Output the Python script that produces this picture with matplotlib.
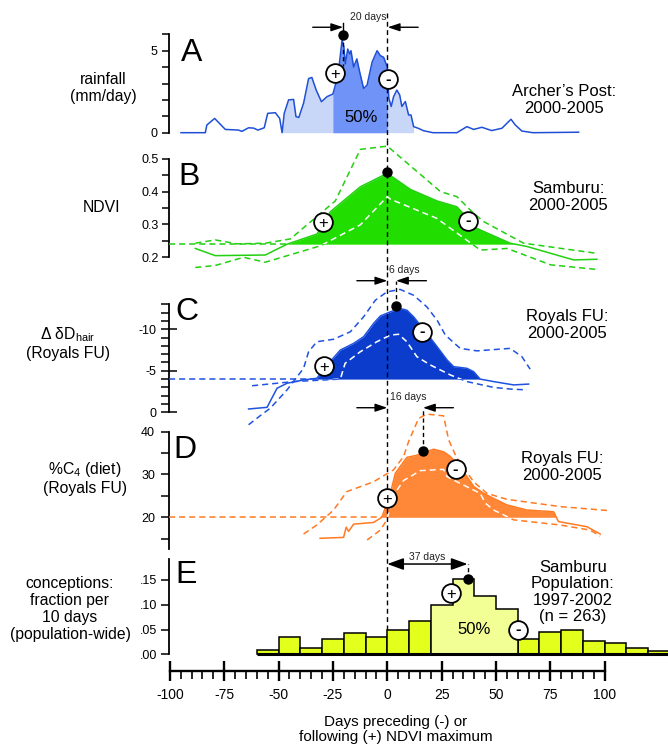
import matplotlib

matplotlib.use("Agg")
import matplotlib.pyplot as plt
import matplotlib.transforms as mtransforms
import numpy as np
from matplotlib.path import Path

plt.rcParams["font.family"] = ["Liberation Sans", "DejaVu Sans"]
plt.rcParams["mathtext.fontset"] = "custom"
plt.rcParams["mathtext.rm"] = "Liberation Sans"
plt.rcParams["mathtext.it"] = "Liberation Sans:italic"
plt.rcParams["axes.unicode_minus"] = False

# ---------------------------------------------------------------- data
# A: rainfall at Archer's Post (mm/day) vs days from NDVI maximum
rain_days = [-94.9, -83.7, -83.0, -79.4, -74.5, -68.4, -66.9, -63.8, -61.5, -59.5,
             -56.6, -55.0, -51.5, -49.5, -48.4, -47.4, -45.4, -43.1, -42.0, -40.7,
             -38.5, -36.2, -34.7, -32.7, -30.3, -27.7, -25.0, -23.9, -22.4, -20.8,
             -20.0, -19.3, -18.2, -17.3, -16.7, -15.5, -14.0, -12.7, -10.9, -9.3,
             -7.0, -4.7, -3.2, -1.7, 0.0, 0.7, 1.8, 2.9, 4.4, 5.7,
             6.7, 8.3, 9.8, 10.9, 12.1, 14.4, 16.7, 21.0, 24.4, 32.0,
             36.6, 39.7, 43.5, 48.0, 52.7, 56.9, 58.8, 61.9, 67.0, 88.0]
rain_mm = [0.0, 0.0, 0.47, 0.87, 0.2, 0.16, 0.08, 0.3, 0.28, 0.16,
           0.3, 1.18, 1.22, 0.87, 0.0, 1.18, 2.0, 2.03, 0.98, 0.93,
           1.8, 3.3, 3.37, 2.6, 1.89, 2.2, 2.36, 2.9, 3.8, 5.65,
           5.24, 4.2, 5.1, 4.8, 5.0, 4.0, 4.5, 3.7, 2.7, 2.9,
           4.3, 5.0, 4.7, 4.6, 4.0, 2.1, 1.6, 2.2, 2.6, 2.3,
           1.6, 1.9, 1.08, 1.08, 0.37, 0.26, 0.12, 0.0, 0.0, 0.0,
           0.37, 0.2, 0.33, 0.13, 0.27, 0.82, 0.48, 0.1, 0.0, 0.03]
rain_season = (-48.4, 12.1)
rain_half = (-25.0, 0.0)
rain_peak = (-20.3, 5.95)
rain_plus = (-24.2, 3.66)
rain_minus = (0.5, 3.25)

# B: NDVI, Samburu
ndvi_days = [-88.3, -79.1, -56.1, -46.1, -32.3, -26.2, -12.4, 0.0, 10.6, 22.8,
             32.0, 41.2, 56.5, 64.2, 85.7, 96.4]
ndvi_mean = [0.227, 0.205, 0.207, 0.240, 0.271, 0.339, 0.415, 0.456, 0.407, 0.372,
             0.354, 0.288, 0.243, 0.233, 0.192, 0.194]
ndvi_hi_days = [-88.3, -79.1, -69.1, -56.1, -44.6, -23.9, -12.4, 0.0, 24.5, 32.0,
                39.7, 44.3, 62.7, 96.4]
ndvi_hi = [0.243, 0.253, 0.241, 0.243, 0.256, 0.372, 0.529, 0.539, 0.400, 0.385,
           0.334, 0.309, 0.243, 0.212]
ndvi_lo_days = [-88.3, -79.1, -66.1, -56.1, -30.8, -12.4, 0.0, 1.5, 22.7, 42.8,
                55.1, 75.1, 96.4]
ndvi_lo = [0.169, 0.175, 0.200, 0.185, 0.235, 0.299, 0.385, 0.377, 0.319, 0.222,
           0.227, 0.177, 0.163]
ndvi_base = 0.24
ndvi_peak = (0.0, 0.459)
ndvi_plus = (-29.6, 0.307)
ndvi_minus = (37.1, 0.312)

# C: delta dD of hair, Royals FU
hair_days = [-63.8, -55.3, -50.7, -46.1, -38.5, -32.4, -26.3, -21.6, -15.5, -10.9,
             -6.3, -3.2, 1.4, 5.9, 9.0, 12.1, 18.2, 22.9, 27.5, 30.5,
             36.6, 39.7, 42.7, 48.9, 58.1, 65.0]
hair_mean = [-0.4, -0.6, -2.9, -3.5, -3.9, -4.1, -6.1, -7.5, -8.3, -9.1,
             -10.7, -11.6, -12.1, -12.5, -12.3, -11.5, -9.5, -7.9, -6.3, -5.5,
             -5.3, -4.9, -4.0, -3.7, -3.3, -3.4]
hair_outer_days = [-63.8, -58.4, -53.8, -46.1, -38.5, -36.2, -32.4, -24.7, -17.0, -10.9,
                   -5.5, -0.2, 5.9, 12.1, 18.2, 22.9, 26.7, 33.5, 41.2, 56.5,
                   61.9, 65.7]
hair_outer = [1.5, 0.4, -0.5, -2.7, -5.3, -7.3, -8.5, -8.8, -9.7, -11.5,
              -13.5, -14.5, -14.8, -14.1, -12.7, -11.1, -9.3, -7.7, -7.4, -7.7,
              -6.7, -5.2]
hair_inner_days = [-62.2, -43.1, -21.6, -19.4, -12.4, -4.8, 1.4, 5.2, 9.0, 13.6,
                   19.8, 29.0, 36.6, 48.9, 56.5, 64.2]
hair_inner = [-3.2, -3.7, -4.0, -5.9, -7.3, -8.5, -9.3, -9.4, -8.5, -6.7,
              -5.7, -4.5, -3.7, -3.0, -2.8, -2.7]
hair_base = -4.0
hair_peak = (4.0, -12.75)
hair_plus = (-28.9, -5.6)
hair_minus = (16.0, -9.7)

# D: %C4 in diet, Royals FU
c4_days = [-30.9, -20.1, -18.9, -17.8, -15.5, -6.3, -2.5, 1.4, 3.7, 9.0,
           13.6, 16.7, 21.3, 25.9, 29.0, 34.4, 39.7, 44.3, 48.9, 55.0,
           64.2, 76.5, 78.7, 91.8, 97.9]
c4_mean = [15.1, 15.3, 17.7, 16.7, 18.4, 18.8, 20.0, 25.6, 30.3, 34.0,
           34.5, 35.1, 35.9, 35.3, 34.2, 31.2, 27.2, 25.6, 24.4, 22.9,
           21.7, 21.3, 19.0, 17.8, 16.1]
c4_hi_days = [-38.5, -32.4, -24.7, -18.6, -6.3, 2.9, 7.5, 9.8, 14.4, 18.2,
              25.9, 28.2, 32.0, 39.7, 45.8, 55.0, 79.5, 101.0]
c4_hi = [16.1, 18.2, 21.7, 26.0, 28.3, 31.1, 34.2, 37.7, 43.1, 44.1,
         43.7, 38.1, 33.8, 28.3, 25.6, 24.2, 22.5, 21.6]
c4_lo_days = [-9.3, -3.2, -0.2, 2.9, 7.5, 15.2, 25.9, 27.5, 32.0, 42.7,
              45.1, 48.9, 58.1, 79.5, 93.3, 97.9]
c4_lo = [14.7, 17.0, 19.4, 25.2, 28.6, 30.9, 31.2, 29.5, 28.3, 25.6,
         23.3, 21.7, 19.4, 18.2, 17.0, 15.6]
c4_base = 20.0
c4_peak = (16.4, 35.6)
c4_plus = (0.0, 24.4)
c4_minus = (31.4, 31.2)

# E: conceptions per 10-day bin, Samburu population
conception_bin_start = [-60, -50, -40, -30, -20, -10, 0, 10, 20, 30,
                        40, 50, 60, 70, 80, 90, 100, 110, 120]
conception_fraction = [0.009, 0.034, 0.012, 0.031, 0.042, 0.034, 0.049, 0.068, 0.100, 0.151,
                       0.118, 0.091, 0.031, 0.044, 0.049, 0.026, 0.022, 0.012, 0.007]
conception_half = (20, 60)
conception_peak = (36.9, 0.152)
conception_plus = (29.2, 0.124)
conception_minus = (60.0, 0.049)

# ---------------------------------------------------------------- layout
W, H, DPI = 668, 745, 100
X_LEFT_PX, X_RIGHT_PX = 169, 668
XLIM = (-100.4, 129.1)
BIN_DAYS = 10
ARROW_DAYS = 14

A_LINE, A_LIGHT, A_DARK = "#1f4fd6", "#c8d6f8", "#6f93f6"
B_FILL, B_LINE = "#22de00", "#22d010"
C_FILL, C_LINE = "#0b3ccc", "#1f52e0"
D_FILL, D_LINE = "#ff8838", "#ff7a22"
E_BAR, E_LIGHT = "#e3ff1c", "#f1ff94"
DASH = (0, (4, 2.6))
ZERO_DASH = (0, (3.5, 2.5))


def fx(px: float) -> float:
    return px / W


def fy(py: float) -> float:
    return 1 - py / H


def add_panel(fig, top_px, bottom_px, ylim):
    ax = fig.add_axes([fx(X_LEFT_PX), fy(bottom_px), (X_RIGHT_PX - X_LEFT_PX) / W,
                       (bottom_px - top_px) / H])
    ax.set_xlim(*XLIM)
    ax.set_ylim(*ylim)
    ax.patch.set_visible(False)
    for side in ("top", "right", "bottom"):
        ax.spines[side].set_visible(False)
    ax.spines["left"].set_linewidth(1.3)
    ax.set_xticks([])
    ax.tick_params(axis="y", which="both", width=1.1, labelsize=9)
    return ax


def style_y(ax, ticks, labels, bounds, length=5.0, pad=2.5):
    ax.set_yticks(ticks)
    ax.set_yticklabels(labels)
    ax.spines["left"].set_bounds(*bounds)
    ax.tick_params(axis="y", which="major", length=length, pad=pad)


def zero_line(fig, ax, top_px, bottom_px, zorder=5):
    """Piece of the dashed NDVI-maximum line that runs through this panel."""
    tf = mtransforms.blended_transform_factory(ax.transData, fig.transFigure)
    ax.plot([0, 0], [fy(top_px), fy(bottom_px)], transform=tf, color="k", lw=1.0,
            ls=ZERO_DASH, clip_on=False, zorder=zorder)


def sign_marker(ax, xy, sign):
    ax.plot(*xy, "o", mfc="white", mec="k", mew=1.3, ms=13.5, zorder=8)
    offset = -1.1 if sign == "+" else 0.2
    ax.annotate(sign, xy, xytext=(0, offset), textcoords="offset points", ha="center",
                va="center", fontsize=12, fontweight="bold" if sign == "-" else "normal",
                zorder=9)


def peak_dot(ax, xy):
    ax.plot(*xy, "o", color="k", ms=6.5, zorder=8)


def inward_arrows(ax, left, right, y, label, label_y, label_x, ha):
    props = dict(arrowstyle="-|>,head_length=0.6,head_width=0.2", color="k", lw=1.0,
                 shrinkA=0, shrinkB=0, mutation_scale=12)
    ax.annotate("", xy=(left, y), xytext=(left - ARROW_DAYS, y), arrowprops=props,
                annotation_clip=False)
    ax.annotate("", xy=(right, y), xytext=(right + ARROW_DAYS, y), arrowprops=props,
                annotation_clip=False)
    ax.text(label_x, label_y, label, fontsize=7.5, ha=ha, va="center", color="#222222")


def white_inside(ax, days, values, poly):
    line, = ax.plot(days, values, color="white", lw=1.1, ls=DASH, zorder=4)
    line.set_clip_path(Path.make_compound_path(*poly.get_paths()), ax.transData)


def baseline_dash(ax, days, values, base, above, color):
    days = np.asarray(days)
    values = np.asarray(values)
    cond = values >= base if above else values <= base
    start = days[np.argmax(cond)]
    ax.plot([XLIM[0], start], [base, base], color=color, lw=1.1, ls=DASH, zorder=3)
    return cond


fig = plt.figure(figsize=(W / DPI, H / DPI), dpi=DPI)

# ---------------------------------------------------------------- panel A
ax_a = add_panel(fig, 5, 140, (-0.445, 7.787))
style_y(ax_a, [0, 1, 2, 3, 4, 5, 6], ["0", "", "", "", "", "5", ""], (0, 6), pad=3)
rd, rm = np.array(rain_days), np.array(rain_mm)
ax_a.fill_between(rd, rm, 0, where=(rd >= rain_season[0]) & (rd <= rain_season[1]),
                  color=A_LIGHT, lw=0, zorder=2)
ax_a.fill_between(rd, rm, 0, where=(rd >= rain_half[0]) & (rd <= rain_half[1]),
                  color=A_DARK, lw=0, zorder=2)
ax_a.plot(rd, rm, color=A_LINE, lw=1.1, zorder=3)
ax_a.text(-12.0, 0.95, "50%", fontsize=12, ha="center", va="center", zorder=5)
ax_a.plot([rain_peak[0]] * 2, [rain_peak[1], 4.05], color="k", lw=1.0, ls=(0, (3, 2.2)), zorder=5)
ax_a.plot([rain_peak[0]] * 2, [rain_peak[1], 6.7], color="k", lw=1.0, zorder=5)
peak_dot(ax_a, rain_peak)
sign_marker(ax_a, rain_plus, "+")
sign_marker(ax_a, rain_minus, "-")
inward_arrows(ax_a, rain_peak[0], 0.2, 6.43, "20 days", 7.07, -0.3, "right")
zero_line(fig, ax_a, 13, 140)

# ---------------------------------------------------------------- panel B
ax_b = add_panel(fig, 140, 278, (0.1369, 0.5576))
style_y(ax_b, [0.2, 0.25, 0.3, 0.35, 0.4, 0.45, 0.5],
        ["0.2", "", "0.3", "", "0.4", "", "0.5"], (0.2, 0.5))
cond_b = baseline_dash(ax_b, ndvi_days, ndvi_mean, ndvi_base, True, B_LINE)
poly_b = ax_b.fill_between(ndvi_days, ndvi_mean, ndvi_base, where=cond_b, interpolate=True,
                           color=B_FILL, lw=0, zorder=2)
ax_b.plot(ndvi_days, ndvi_mean, color=B_LINE, lw=1.1, zorder=3)
ax_b.plot(ndvi_hi_days, ndvi_hi, color=B_LINE, lw=1.1, ls=DASH, zorder=3)
ax_b.plot(ndvi_lo_days, ndvi_lo, color=B_LINE, lw=1.1, ls=DASH, zorder=3)
white_inside(ax_b, ndvi_lo_days, ndvi_lo, poly_b)
peak_dot(ax_b, ndvi_peak)
sign_marker(ax_b, ndvi_plus, "+")
sign_marker(ax_b, ndvi_minus, "-")
zero_line(fig, ax_b, 140, 272)

# ---------------------------------------------------------------- panel C
ax_c = add_panel(fig, 270, 428, (1.89, -17.14))
ax_c.set_yticks([0, -5, -10])
ax_c.set_yticklabels(["0", "-5", "-10"])
ax_c.set_yticks(list(range(0, -14, -1)), minor=True)
ax_c.spines["left"].set_bounds(0, -13)
ax_c.tick_params(axis="y", which="major", direction="inout", length=12, pad=3)
ax_c.tick_params(axis="y", which="minor", direction="out", length=5.5)
cond_c = baseline_dash(ax_c, hair_days, hair_mean, hair_base, False, C_LINE)
poly_c = ax_c.fill_between(hair_days, hair_mean, hair_base, where=cond_c, interpolate=True,
                           color=C_FILL, lw=0, zorder=2)
ax_c.plot(hair_days, hair_mean, color=C_LINE, lw=1.1, zorder=3)
ax_c.plot(hair_outer_days, hair_outer, color=C_LINE, lw=1.1, ls=DASH, zorder=3)
ax_c.plot(hair_inner_days, hair_inner, color=C_LINE, lw=1.1, ls=DASH, zorder=3)
white_inside(ax_c, hair_inner_days, hair_inner, poly_c)
ax_c.plot([hair_peak[0]] * 2, [hair_peak[1], -15.85], color="k", lw=1.0,
          ls=(0, (3, 2.2)), zorder=5, clip_on=False)
peak_dot(ax_c, hair_peak)
sign_marker(ax_c, hair_plus, "+")
sign_marker(ax_c, hair_minus, "-")
inward_arrows(ax_c, 0.0, hair_peak[0], -15.85, "6 days", -17.2, 1.0, "left")
zero_line(fig, ax_c, 272, 400)

# ---------------------------------------------------------------- panel D
ax_d = add_panel(fig, 390, 555, (11.19, 49.74))
style_y(ax_d, [15, 20, 25, 30, 35, 40], ["", "20", "", "30", "", "40"], (12.6, 40),
        length=6.0, pad=4)
cond_d = baseline_dash(ax_d, c4_days, c4_mean, c4_base, True, D_LINE)
poly_d = ax_d.fill_between(c4_days, c4_mean, c4_base, where=cond_d, interpolate=True,
                           color=D_FILL, lw=0, zorder=2)
ax_d.plot(c4_days, c4_mean, color=D_LINE, lw=1.1, zorder=3)
ax_d.plot(c4_hi_days, c4_hi, color=D_LINE, lw=1.1, ls=DASH, zorder=3)
ax_d.plot(c4_lo_days, c4_lo, color=D_LINE, lw=1.1, ls=DASH, zorder=3)
white_inside(ax_d, c4_lo_days, c4_lo, poly_d)
ax_d.plot([c4_peak[0]] * 2, [c4_peak[1], 45.6], color="k", lw=1.0, ls=(0, (3, 2.2)), zorder=5)
peak_dot(ax_d, c4_peak)
sign_marker(ax_d, c4_plus, "+")
sign_marker(ax_d, c4_minus, "-")
inward_arrows(ax_d, 0.0, c4_peak[0], 45.6, "16 days", 48.2, 1.2, "left")
zero_line(fig, ax_d, 400, 550)

# ---------------------------------------------------------------- panel E
ax_e = add_panel(fig, 548, 662, (-0.0155, 0.2143))
style_y(ax_e, [0, 0.05, 0.10, 0.15], [".00", ".05", ".10", ".15"], (0, 0.193),
        length=6.0, pad=2.5)
starts = np.array(conception_bin_start, dtype=float)
frac = np.array(conception_fraction)
core = (starts >= conception_half[0]) & (starts < conception_half[1])
ax_e.bar(starts[~core], frac[~core], width=BIN_DAYS, align="edge", color=E_BAR,
         edgecolor="k", linewidth=1.1, zorder=3)
ax_e.bar(starts[core], frac[core], width=BIN_DAYS, align="edge", color=E_LIGHT,
         edgecolor="none", zorder=3)
core_edges = np.append(starts[core], starts[core][-1] + BIN_DAYS)
ax_e.stairs(frac[core], core_edges, baseline=0, color="k", linewidth=1.1, zorder=4)
ax_e.plot([starts[0], starts[-1] + BIN_DAYS], [0, 0], color="k", lw=2.2, zorder=5,
          solid_capstyle="butt")
ax_e.text(39.7, 0.050, "50%", fontsize=12, ha="center", va="center", zorder=6)
ax_e.plot([conception_peak[0]] * 2, [conception_peak[1], 0.182], color="k", lw=1.0,
          ls=(0, (3, 2.2)), zorder=5)
ax_e.annotate("", xy=(0, 0.182), xytext=(conception_peak[0], 0.182),
              arrowprops=dict(arrowstyle="<|-|>,head_length=0.55,head_width=0.2", color="k",
                              lw=1.1, shrinkA=0, shrinkB=0, mutation_scale=18))
ax_e.text(conception_peak[0] / 2, 0.197, "37 days", fontsize=7.5, ha="center", va="center",
          color="#222222")
peak_dot(ax_e, conception_peak)
sign_marker(ax_e, conception_plus, "+")
sign_marker(ax_e, conception_minus, "-")
zero_line(fig, ax_e, 550, 652, zorder=1)

# ---------------------------------------------------------------- x axis
ax_x = fig.add_axes([fx(X_LEFT_PX), fy(671), (X_RIGHT_PX - X_LEFT_PX) / W, 0.0001])
ax_x.set_xlim(*XLIM)
ax_x.patch.set_visible(False)
for side in ("top", "right", "left"):
    ax_x.spines[side].set_visible(False)
ax_x.spines["bottom"].set_bounds(-100, 100)
ax_x.spines["bottom"].set_linewidth(1.7)
ax_x.set_yticks([])
major = [-100, -75, -50, -25, 0, 25, 50, 75, 100]
ax_x.set_xticks(major)
ax_x.set_xticklabels([str(t) for t in major])
ax_x.set_xticks(np.arange(-100, 101, 5), minor=True)
ax_x.tick_params(axis="x", which="major", direction="inout", length=15, width=1.7,
                 labelsize=10, pad=5)
ax_x.tick_params(axis="x", which="minor", direction="out", length=5.5, width=1.2)
fig.text(fx(396), fy(729.5), "Days preceding (-) or\nfollowing (+) NDVI maximum",
         ha="center", va="center", fontsize=11, linespacing=1.15)

# ---------------------------------------------------------------- labels
left_labels = [
    (103, 88, "rainfall\n(mm/day)"),
    (101, 208, "NDVI"),
    (68, 343, "Δ δD$_{\\mathrm{hair}}$\n(Royals FU)"),
    (85, 478, "%C$_4$ (diet)\n(Royals FU)"),
    (70, 609, "conceptions:\nfraction per\n10 days\n(population-wide)"),
]
for px, py, txt in left_labels:
    fig.text(fx(px), fy(py), txt, ha="center", va="center", fontsize=11.3, linespacing=1.15)

right_labels = [
    (564, 100, "Archer\u2019s Post:\n2000-2005"),
    (568, 197, "Samburu:\n2000-2005"),
    (567, 325, "Royals FU:\n2000-2005"),
    (562, 467, "Royals FU:\n2000-2005"),
    (573, 592, "Samburu\nPopulation:\n1997-2002\n(n = 263)"),
]
for px, py, txt in right_labels:
    fig.text(fx(px), fy(py), txt, ha="center", va="center", fontsize=12, linespacing=1.1)

panel_letters = [(191.7, 49.3, "A"), (189.3, 173.3, "B"), (186.7, 309, "C"),
                 (185, 446.7, "D"), (186, 571.7, "E")]
for px, py, letter in panel_letters:
    fig.text(fx(px), fy(py + 11.5), letter, ha="center", va="baseline", fontsize=23)

fig.savefig("out.png", dpi=DPI)
